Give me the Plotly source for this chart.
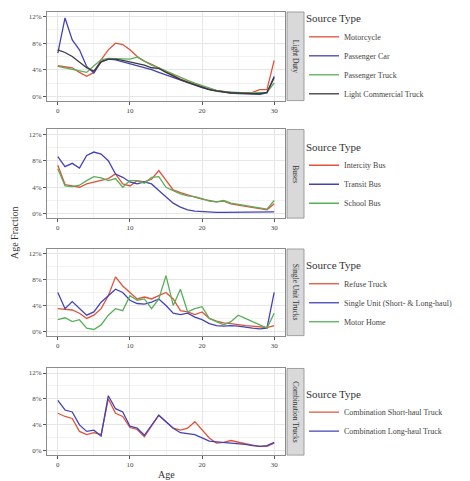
import plotly.graph_objects as go

ages = list(range(31))

# Light Duty (percent)
motorcycle = [4.6, 4.4, 4.3, 3.6, 3.0, 3.6, 5.5, 7.0, 8.0, 7.8, 7.0, 6.0, 5.3, 4.8, 4.3, 3.8, 3.2, 2.6, 2.2, 1.8, 1.4, 1.1, 0.9, 0.7, 0.6, 0.5, 0.5, 0.6, 1.0, 1.0, 5.4]
passenger_car = [6.5, 11.8, 8.5, 7.0, 4.5, 3.5, 5.2, 5.6, 5.5, 5.2, 5.0, 4.7, 4.4, 4.0, 3.6, 3.2, 2.8, 2.4, 2.0, 1.6, 1.3, 1.0, 0.8, 0.6, 0.5, 0.4, 0.4, 0.4, 0.3, 0.5, 3.0]
passenger_truck = [4.5, 4.3, 4.1, 3.9, 3.6, 4.6, 5.5, 5.7, 5.7, 5.6, 5.6, 5.9, 5.3, 4.7, 4.3, 3.8, 3.3, 2.8, 2.4, 2.0, 1.6, 1.2, 0.9, 0.7, 0.6, 0.5, 0.5, 0.5, 0.5, 0.6, 2.0]
light_commercial = [7.0, 6.6, 6.0, 5.2, 4.3, 3.8, 5.2, 5.6, 5.6, 5.4, 5.2, 5.0, 4.7, 4.3, 4.2, 3.6, 3.0, 2.5, 2.1, 1.7, 1.3, 1.0, 0.8, 0.6, 0.5, 0.5, 0.4, 0.4, 0.4, 0.6, 2.8]

# Buses
intercity_bus = [7.3, 4.4, 4.2, 4.0, 4.5, 4.8, 5.0, 5.3, 6.0, 4.5, 4.2, 5.0, 4.8, 5.2, 6.5, 5.0, 3.6, 3.2, 2.8, 2.5, 2.2, 2.0, 1.8, 1.9, 1.5, 1.3, 1.1, 0.9, 0.7, 0.6, 1.5]
transit_bus = [8.6, 7.1, 7.6, 6.9, 8.8, 9.3, 9.0, 8.0, 6.0, 5.5, 4.8, 4.5, 4.8, 4.5, 3.5, 2.5, 1.6, 1.0, 0.6, 0.4, 0.3, 0.2, 0.2, 0.2, 0.2, 0.2, 0.2, 0.2, 0.2, 0.2, 0.3]
school_bus = [6.8, 4.2, 4.1, 4.3, 5.0, 5.6, 5.4, 5.0, 5.3, 4.0, 5.0, 5.0, 4.6, 5.5, 5.6, 4.0, 3.5, 3.0, 2.7, 2.6, 2.3, 1.9, 1.8, 2.0, 1.6, 1.4, 1.2, 1.0, 0.8, 0.7, 2.0]

# Single Unit Trucks
refuse_truck = [3.5, 3.4, 3.3, 2.8, 2.0, 2.5, 3.5, 5.5, 8.4, 7.0, 6.0, 5.0, 5.3, 5.0, 5.5, 6.0, 5.0, 3.2, 3.0, 2.6, 3.0, 2.0, 1.6, 1.3, 1.2, 1.0, 0.9, 0.8, 0.7, 0.6, 0.9]
single_unit = [6.0, 3.5, 4.6, 3.5, 2.5, 3.0, 4.5, 5.5, 6.5, 6.0, 4.8, 4.3, 4.2, 4.5, 5.0, 4.0, 2.8, 2.6, 2.8, 2.2, 1.8, 1.2, 0.9, 0.8, 0.9, 0.8, 0.6, 0.5, 0.4, 0.5, 6.0]
motor_home = [1.8, 2.1, 1.5, 1.8, 0.5, 0.3, 1.0, 2.5, 3.5, 3.2, 5.5, 4.8, 5.0, 3.5, 5.0, 8.6, 4.0, 6.5, 3.0, 3.5, 3.8, 2.0, 1.5, 1.0, 1.5, 2.5, 2.0, 1.5, 1.0, 0.5, 2.8]

# Combination Trucks
comb_short = [5.8, 5.3, 5.0, 3.0, 2.5, 2.8, 2.5, 8.0, 5.8, 5.3, 3.6, 3.3, 2.2, 3.8, 5.5, 4.5, 3.5, 3.2, 3.5, 4.5, 3.2, 2.0, 1.2, 1.3, 1.6, 1.3, 1.1, 0.9, 0.7, 0.7, 1.2]
comb_long = [7.8, 6.3, 6.0, 4.0, 3.0, 3.2, 2.3, 8.5, 6.5, 6.0, 3.8, 3.5, 2.4, 4.0, 5.5, 4.5, 3.5, 2.8, 2.6, 2.5, 2.0, 1.5, 1.4, 1.3, 1.3, 1.2, 1.0, 0.8, 0.7, 0.8, 1.3]

y_tickvals = [0, 4, 8, 12]
y_ticktext = ["0%", "4%", "8%", "12%"]
x_tickvals = [0, 10, 20, 30]

panel_names = ["Light Duty", "Buses", "Single Unit Trucks", "Combination Trucks"]
panel_series = [
    [("Motorcycle", motorcycle), ("Passenger Car", passenger_car),
     ("Passenger Truck", passenger_truck), ("Light Commercial Truck", light_commercial)],
    [("Intercity Bus", intercity_bus), ("Transit Bus", transit_bus), ("School Bus", school_bus)],
    [("Refuse Truck", refuse_truck), ("Single Unit (Short- & Long-haul)", single_unit),
     ("Motor Home", motor_home)],
    [("Combination Short-haul Truck", comb_short), ("Combination Long-haul Truck", comb_long)],
]
colors = ["#E0533A", "#4343B8", "#5AAE5A", "#3A3A3A"]

# page body has an 8px margin, so the figure is offset by 8px
OFF = 8
W, H = 462, 473
def fx(p):
    return (p - OFF) / W
def fy(p):
    return 1 - (p - OFF) / H

panels_px = [(10, 99), (128, 217), (248, 335), (368, 455)]
legend_top_px = [6, 135, 254, 383]
x_left, x_right = 47, 285
strip_l, strip_r = 287, 304
FONT = "Liberation Serif"

fig = go.Figure()
layout = dict(
    width=W, height=H, margin=dict(l=0, r=0, t=0, b=0),
    paper_bgcolor="white", plot_bgcolor="white",
    font=dict(family=FONT, size=8, color="#333"),
    shapes=[], annotations=[],
)

for i, (name, series) in enumerate(zip(panel_names, panel_series)):
    top, bot = panels_px[i]
    sfx = "" if i == 0 else str(i + 1)
    leg = "legend" + sfx
    for j, (sname, vals) in enumerate(series):
        fig.add_trace(go.Scatter(
            x=ages, y=vals, mode="lines", name=sname,
            line=dict(color=colors[j], width=1.3),
            xaxis="x" + sfx, yaxis="y" + sfx, legend=leg,
        ))
    dom_y = [fy(bot), fy(top)]
    layout["xaxis" + sfx] = dict(
        domain=[fx(x_left), fx(x_right)], anchor="y" + sfx, range=[-1.5, 31.5],
        tickvals=x_tickvals, showgrid=True, gridcolor="#E6E6E6", gridwidth=0.8,
        minor=dict(showgrid=True, dtick=5, tick0=0, gridcolor="#F2F2F2", gridwidth=0.5),
        showline=True, mirror=True, linecolor="#8C8C8C", linewidth=0.8,
        ticks="outside", ticklen=3, tickcolor="#555", zeroline=False,
        tickfont=dict(family=FONT, size=7, color="#444"), automargin=False,
    )
    layout["yaxis" + sfx] = dict(
        domain=dom_y, anchor="x" + sfx, range=[-0.65, 12.7],
        tickvals=y_tickvals, ticktext=y_ticktext, showgrid=True, gridcolor="#E6E6E6", gridwidth=0.8,
        minor=dict(showgrid=True, dtick=2, tick0=0, gridcolor="#F2F2F2", gridwidth=0.5),
        showline=True, mirror=True, linecolor="#8C8C8C", linewidth=0.8,
        ticks="outside", ticklen=3, tickcolor="#555", zeroline=False,
        tickfont=dict(family=FONT, size=7, color="#444"), automargin=False,
    )
    layout[leg] = dict(
        x=fx(304), y=fy(legend_top_px[i]),
        xanchor="left", yanchor="top",
        title=dict(text="Source Type", font=dict(family=FONT, size=11, color="#333")),
        font=dict(family=FONT, size=8, color="#444"), bgcolor="rgba(0,0,0,0)",
        tracegroupgap=0, itemwidth=30,
    )
    layout["shapes"].append(dict(
        type="rect", xref="paper", yref="paper",
        x0=fx(strip_l), x1=fx(strip_r), y0=dom_y[0], y1=dom_y[1],
        fillcolor="#D9D9D9", line=dict(color="#8C8C8C", width=0.8),
    ))
    layout["annotations"].append(dict(
        text=name, textangle=90, xref="paper", yref="paper",
        x=fx((strip_l + strip_r) / 2), y=(dom_y[0] + dom_y[1]) / 2,
        showarrow=False, font=dict(family=FONT, size=7.5, color="#333"),
        xanchor="center", yanchor="middle",
    ))

layout["annotations"].append(dict(
    text="Age Fraction", textangle=-90, xref="paper", yref="paper",
    x=fx(14), y=fy(232), showarrow=False,
    font=dict(family=FONT, size=10, color="#333"), xanchor="center", yanchor="middle",
))
layout["annotations"].append(dict(
    text="Age", xref="paper", yref="paper",
    x=fx((x_left + x_right) / 2), y=fy(474), showarrow=False,
    font=dict(family=FONT, size=10, color="#333"), xanchor="center", yanchor="middle",
))

fig.update_layout(**layout)
fig.write_html("out.html")
